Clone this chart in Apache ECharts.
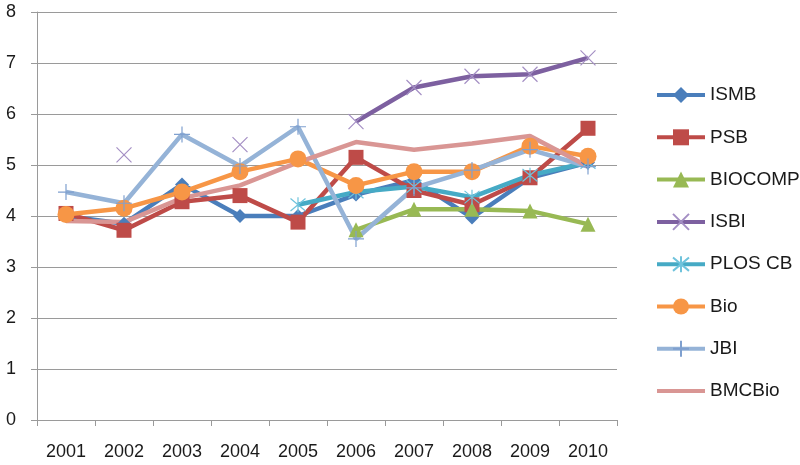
<!DOCTYPE html>
<html>
<head>
<meta charset="utf-8">
<script src="https://cdn.jsdelivr.net/npm/echarts@6/dist/echarts.min.js"></script>
<style>html,body{margin:0;padding:0;background:#fff}#c{width:800px;height:465px}</style>
</head>
<body>
<div id="c"></div>
<script>
var years = ['2001','2002','2003','2004','2005','2006','2007','2008','2009','2010'];
var ISMB    = [4.0, 3.85, 4.62, 4.0, 4.0, 4.42, 4.7, 3.97, 4.75, 5.05];
var PSB     = [4.05, 3.72, 4.28, 4.4, 3.88, 5.15, 4.5, 4.22, 4.75, 5.72];
var BIOCOMP = [null, null, null, null, null, 3.73, 4.13, 4.13, 4.1, 3.84];
var ISBI    = [null, 5.2, null, 5.4, null, 5.85, 6.52, 6.74, 6.78, 7.1];
var PLOSCB  = [null, null, null, null, 4.22, 4.47, 4.58, 4.37, 4.8, 5.05];
var Bio     = [4.03, 4.15, 4.47, 4.87, 5.12, 4.6, 4.87, 4.87, 5.37, 5.17];
var JBI     = [4.47, 4.25, 5.6, 4.98, 5.75, 3.55, 4.55, 4.9, 5.3, 4.97];
var BMCBio  = [3.9, 3.88, 4.35, 4.6, 5.05, 5.45, 5.3, 5.42, 5.57, 4.97];
var yTicks  = [0, 1, 2, 3, 4, 5, 6, 7, 8];

var FONT = 'Liberation Sans';
var X_PATH = 'path://M0,0L10,10M10,0L0,10';
var STAR_PATH = 'path://M0,0L10,10M10,0L0,10M5,-1L5,11';
var PLUS_PATH = 'path://M5,0L5,10M0,5L10,5';

function mk(name, data, color, symbol, size, stroke) {
  var s = {
    name: name, type: 'line', data: data, connectNulls: false,
    symbol: symbol, symbolSize: size, showSymbol: true,
    lineStyle: { color: color, width: 4.5 },
    itemStyle: stroke ? { color: 'rgba(0,0,0,0)', borderColor: stroke, borderWidth: 1.2 } : { color: color, borderWidth: 0 },
    emphasis: { disabled: true }
  };
  return s;
}

var bmc = mk('BMCBio', BMCBio, '#D99694', 'circle', 0);
bmc.showSymbol = false;
bmc.itemStyle = { color: 'rgba(0,0,0,0)', borderWidth: 0 };

var chart = echarts.init(document.getElementById('c'), null, { renderer: 'canvas' });
chart.setOption({
  animation: false,
  backgroundColor: '#ffffff',
  grid: { left: 37, right: 183, top: 12, bottom: 45, containLabel: false },
  legend: {
    orient: 'vertical', left: 650, top: 80,
    itemWidth: 48, itemHeight: 20, itemGap: 22.3,
    lineStyle: { width: 4 },
    textStyle: { fontFamily: FONT, fontSize: 19, color: '#1a1a1a', lineHeight: 20 },
    data: ['ISMB','PSB','BIOCOMP','ISBI','PLOS CB','Bio','JBI',
      { name: 'BMCBio', itemStyle: { color: 'rgba(0,0,0,0)', borderWidth: 0, opacity: 0 } }]
  },
  xAxis: {
    type: 'category', data: years, boundaryGap: true,
    axisLine: { lineStyle: { color: '#9a9a9a', width: 1 } },
    axisTick: { show: true, alignWithLabel: false, length: 6, lineStyle: { color: '#9a9a9a' } },
    axisLabel: { fontFamily: FONT, fontSize: 18, color: '#1a1a1a', margin: 23, interval: 0 },
    splitLine: { show: false }
  },
  yAxis: {
    type: 'value', min: yTicks[0], max: yTicks[yTicks.length - 1], interval: 1,
    axisLine: { show: true, lineStyle: { color: '#9a9a9a', width: 1 } },
    axisTick: { show: true, length: 6, lineStyle: { color: '#9a9a9a' } },
    axisLabel: { fontFamily: FONT, fontSize: 18, color: '#1a1a1a', margin: 21 },
    splitLine: { show: true, lineStyle: { color: '#9a9a9a', width: 1 } }
  },
  series: [
    mk('ISMB', ISMB, '#4A7EBB', 'diamond', 14),
    mk('PSB', PSB, '#BE4B48', 'rect', 15),
    mk('BIOCOMP', BIOCOMP, '#98B954', 'triangle', 15),
    mk('ISBI', ISBI, '#7D60A0', X_PATH, 15, '#a48fc4'),
    mk('PLOS CB', PLOSCB, '#46AAC5', STAR_PATH, 15, '#6fc3dc'),
    mk('Bio', Bio, '#F79646', 'circle', 17),
    mk('JBI', JBI, '#95B3D7', PLUS_PATH, 16, '#7fa0cf'),
    bmc
  ]
});
</script>
</body>
</html>
